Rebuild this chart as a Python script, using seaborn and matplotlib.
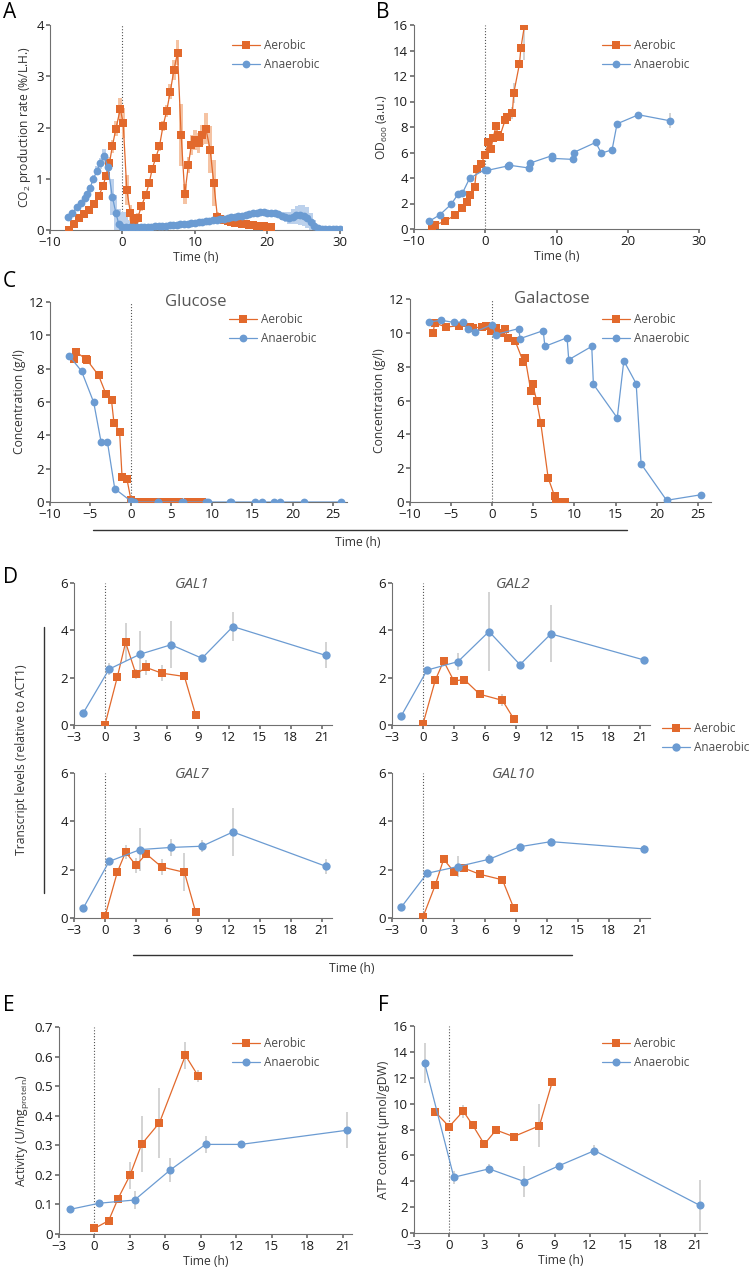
import matplotlib
matplotlib.use('Agg')
import matplotlib.pyplot as plt
import seaborn as sns
import numpy as np
from matplotlib.lines import Line2D

# ---- A: CO2 production rate ----
aer_co2_t = [-7.4, -6.7, -6.0, -5.3, -4.6, -3.9, -3.3, -2.7, -2.3, -1.8,
             -1.4, -0.9, -0.3, 0.1, 0.6, 1.1, 1.6, 2.1, 2.6, 3.2,
             3.7, 4.1, 4.6, 5.1, 5.6, 6.1, 6.6, 7.1, 7.6, 8.1,
             8.6, 9.1, 9.5, 10.0, 10.5, 11.0, 11.5, 12.1, 12.6, 13.1,
             13.5, 14.0, 14.5, 15.0, 15.5, 16.0, 16.5, 17.0, 17.5, 18.0,
             18.5, 19.0, 19.5, 20.0, 20.5]
aer_co2 = [0.0, 0.12, 0.23, 0.31, 0.39, 0.51, 0.66, 0.85, 1.05, 1.30,
           1.63, 1.98, 2.36, 2.09, 0.78, 0.33, 0.18, 0.23, 0.46, 0.68,
           0.92, 1.19, 1.41, 1.63, 2.03, 2.32, 2.70, 3.12, 3.46, 1.85,
           0.70, 1.27, 1.66, 1.76, 1.70, 1.85, 1.98, 1.57, 0.92, 0.26,
           0.22, 0.19, 0.17, 0.15, 0.14, 0.13, 0.12, 0.11, 0.10, 0.09,
           0.08, 0.07, 0.07, 0.06, 0.06]
aer_co2_err = [0.02, 0.03, 0.03, 0.03, 0.04, 0.05, 0.05, 0.06, 0.08, 0.10,
               0.12, 0.15, 0.22, 0.30, 0.30, 0.15, 0.10, 0.10, 0.08, 0.08,
               0.08, 0.08, 0.08, 0.08, 0.10, 0.12, 0.15, 0.20, 0.25, 0.60,
               0.20, 0.15, 0.20, 0.20, 0.20, 0.20, 0.30, 0.45, 0.45, 0.10,
               0.05, 0.05, 0.05, 0.05, 0.05, 0.05, 0.05, 0.05, 0.05, 0.05,
               0.05, 0.05, 0.05, 0.05, 0.05]

ana_co2_t = [-7.5, -6.9, -6.3, -5.7, -5.2, -4.9, -4.5, -4.0, -3.5, -3.1,
             -2.5, -2.0, -1.4, -0.9, -0.5,
             0.0, 0.5, 1.0, 1.5, 2.0, 2.5, 3.0, 3.5, 4.0, 4.5,
             5.0, 5.5, 6.0, 6.5, 7.0, 7.5, 8.0, 8.5, 9.0, 9.5,
             10.0, 10.5, 11.0, 11.5, 12.0, 12.5, 13.0, 13.5, 14.0, 14.5,
             15.0, 15.5, 16.0, 16.5, 17.0, 17.5, 18.0, 18.5, 19.0, 19.5,
             20.0, 20.5, 21.0, 21.5, 22.0, 22.5, 23.0, 23.5, 24.0, 24.5,
             25.0, 25.5, 26.0, 26.5, 27.0, 27.5, 28.0, 28.5, 29.0, 29.5, 30.0]
ana_co2 = [0.26, 0.34, 0.44, 0.53, 0.62, 0.70, 0.81, 1.00, 1.16, 1.30,
           1.44, 1.22, 0.65, 0.33, 0.11,
           0.05, 0.05, 0.05, 0.05, 0.05, 0.05, 0.06, 0.06, 0.06, 0.07,
           0.07, 0.08, 0.08, 0.09, 0.09, 0.10, 0.11, 0.12, 0.12, 0.13,
           0.14, 0.15, 0.16, 0.17, 0.18, 0.19, 0.20, 0.21, 0.22, 0.23,
           0.25, 0.26, 0.27, 0.28, 0.30, 0.31, 0.33, 0.34, 0.35, 0.35,
           0.34, 0.33, 0.33, 0.31, 0.27, 0.25, 0.24, 0.26, 0.29, 0.29,
           0.28, 0.24, 0.16, 0.07, 0.03, 0.02, 0.02, 0.02, 0.02, 0.02, 0.02]
ana_co2_err = [0.03, 0.03, 0.04, 0.04, 0.05, 0.05, 0.06, 0.07, 0.08, 0.10,
               0.15, 0.20, 0.35, 0.35, 0.30,
               0.30, 0.30, 0.15, 0.03, 0.02, 0.02, 0.02, 0.02, 0.02, 0.02,
               0.02, 0.02, 0.02, 0.02, 0.02, 0.02, 0.02, 0.02, 0.02, 0.02,
               0.02, 0.02, 0.02, 0.02, 0.02, 0.02, 0.02, 0.02, 0.02, 0.02,
               0.02, 0.02, 0.02, 0.02, 0.02, 0.02, 0.02, 0.02, 0.02, 0.03,
               0.03, 0.04, 0.05, 0.05, 0.08, 0.10, 0.12, 0.15, 0.18, 0.20,
               0.20, 0.20, 0.18, 0.12, 0.05, 0.02, 0.02, 0.02, 0.02, 0.02, 0.02]

# ---- B: OD600 ----
aer_od_t = [-7.5, -7.1, -5.7, -4.2, -3.2, -2.6, -2.2, -1.5, -1.2, -0.6, 0.0, 0.4,
            0.8, 1.1, 1.5, 1.8, 2.0, 2.8, 3.1, 3.8, 4.0, 4.8, 5.0, 5.5]
aer_od = [0.13, 0.31, 0.60, 1.10, 1.64, 2.14, 2.69, 3.29, 4.73, 5.12, 5.82, 6.79,
          6.27, 7.13, 8.04, 7.39, 7.20, 8.56, 8.80, 9.09, 10.65, 12.95, 14.18, 15.95]
aer_od_err = [0, 0, 0, 0, 0, 0, 0, 0, 0, 0, 0, 0,
              0.3, 0, 0.3, 0, 0, 0.3, 0, 0.5, 0.8, 0, 0.3, 2.7]
ana_od_t = [-7.9, -6.4, -4.8, -3.8, -3.2, -2.2, -0.1, 0.3, 3.2, 3.4, 6.2, 6.3,
            9.3, 9.4, 12.3, 12.4, 15.5, 16.3, 17.8, 18.5, 21.5, 25.9]
ana_od = [0.60, 1.10, 1.93, 2.74, 2.82, 3.97, 4.65, 4.60, 4.95, 5.00, 4.78, 5.17,
          5.74, 5.54, 5.46, 6.00, 6.79, 5.95, 6.21, 8.25, 8.96, 8.49]
ana_od_err = [0, 0, 0, 0, 0, 0, 0, 0, 0, 0, 0, 0,
              0, 0, 0, 0, 0, 0, 0, 0, 0, 0.6]

# ---- C: glucose / galactose ----
aer_glc_t = [-7.0, -6.8, -5.6, -5.4, -4.0, -3.1, -2.4, -2.1, -1.4, -1.1, -0.5, 0.0,
             0.5, 1.0, 1.3, 1.8, 2.1, 2.9, 3.1, 3.8, 4.1, 4.8, 5.2, 5.6, 6.0,
             7.0, 7.5, 8.0, 8.5, 8.8]
aer_glc = [8.6, 9.0, 8.6, 8.5, 7.6, 6.5, 6.1, 4.76, 4.22, 1.53, 1.39, 0.14,
           0, 0, 0, 0, 0, 0, 0, 0, 0, 0, 0, 0, 0,
           0, 0, 0, 0, 0]
ana_glc_t = [-7.6, -6.1, -4.6, -3.7, -2.9, -2.0, 0.0, 0.4, 3.3, 3.4, 6.3, 6.4,
             9.3, 9.5, 12.2, 12.4, 15.3, 16.2, 17.7, 18.4, 21.4, 25.9]
ana_glc = [8.76, 7.85, 5.98, 3.63, 3.59, 0.80, 0.05, 0, 0, 0, 0, 0,
           0, 0, 0, 0, 0, 0, 0, 0, 0, 0]

aer_gal_t = [-7.2, -7.0, -5.6, -4.1, -2.7, -2.3, -1.3, -0.7, -0.1, 0.5, 1.1, 1.5,
             1.9, 2.8, 3.8, 4.0, 4.7, 4.9, 5.4, 5.9, 6.8, 7.6, 7.8, 8.4, 8.9]
aer_gal = [9.98, 10.58, 10.34, 10.42, 10.34, 10.30, 10.33, 10.42, 10.09, 10.29, 9.99, 10.23,
           9.69, 9.50, 8.26, 8.51, 6.54, 7.00, 5.99, 4.67, 1.42, 0.33, 0.0, 0.0, 0.0]
ana_gal_t = [-7.7, -6.2, -4.7, -3.6, -3.0, -2.1, 0.0, 0.4, 3.2, 3.4, 6.2, 6.4,
             9.1, 9.3, 12.1, 12.3, 15.2, 16.0, 17.5, 18.1, 21.2, 25.4]
ana_gal = [10.64, 10.74, 10.62, 10.64, 10.23, 10.05, 10.49, 9.90, 10.25, 9.66, 10.13, 9.20,
           9.71, 8.41, 9.20, 6.96, 4.97, 8.35, 7.00, 2.25, 0.10, 0.43]

# ---- D: transcript levels ----
aer_t = [0, 1.2, 2, 3, 4, 5.5, 7.7, 8.8]
ana_t = [-2.1, 0.4, 3.4, 6.4, 9.4, 12.4, 21.4]
genes = ['GAL1', 'GAL2', 'GAL7', 'GAL10']
gal_aer = {
    'GAL1': [0.01, 2.03, 3.49, 2.16, 2.43, 2.19, 2.05, 0.41],
    'GAL2': [0.04, 1.90, 2.70, 1.86, 1.92, 1.30, 1.04, 0.26],
    'GAL7': [0.07, 1.90, 2.73, 2.18, 2.65, 2.11, 1.89, 0.23],
    'GAL10': [0.04, 1.37, 2.43, 1.92, 2.06, 1.81, 1.58, 0.41],
}
gal_aer_err = {
    'GAL1': [0, 0, 0.8, 0.2, 0.3, 0.35, 0, 0],
    'GAL2': [0, 0, 0.1, 0, 0, 0, 0.25, 0],
    'GAL7': [0, 0, 0.3, 0.3, 0.15, 0.35, 0.78, 0],
    'GAL10': [0, 0, 0, 0, 0, 0, 0, 0],
}
gal_ana = {
    'GAL1': [0.51, 2.36, 2.99, 3.39, 2.82, 4.16, 2.94],
    'GAL2': [0.39, 2.32, 2.68, 3.95, 2.55, 3.85, 2.75],
    'GAL7': [0.41, 2.34, 2.83, 2.92, 2.97, 3.56, 2.14],
    'GAL10': [0.45, 1.85, 2.13, 2.43, 2.95, 3.16, 2.86],
}
gal_ana_err = {
    'GAL1': [0, 0.25, 1.0, 1.0, 0, 0.6, 0.55],
    'GAL2': [0, 0, 0.35, 1.65, 0, 1.2, 0],
    'GAL7': [0, 0, 0.9, 0.35, 0.25, 1.0, 0.3],
    'GAL10': [0, 0, 0.45, 0.2, 0, 0.15, 0.15],
}

# ---- E: activity ----
act_aer = [0.019, 0.045, 0.12, 0.198, 0.304, 0.376, 0.604, 0.533]
act_aer_err = [0, 0, 0, 0.045, 0.095, 0.118, 0.045, 0.02]
act_ana = [0.083, 0.104, 0.115, 0.216, 0.303, 0.303, 0.351]
act_ana_err = [0.01, 0, 0.03, 0.04, 0.03, 0, 0.06]

# ---- F: ATP ----
atp_aer_t = [-1.2, 0, 1.2, 2, 3, 4, 5.5, 7.7, 8.8]
atp_aer = [9.37, 8.22, 9.42, 8.35, 6.86, 7.96, 7.45, 8.29, 11.69]
atp_aer_err = [0, 0, 0.5, 0, 0, 0, 0, 1.65, 0]
atp_ana = [13.15, 4.31, 4.96, 3.98, 5.21, 6.37, 2.13]
atp_ana_err = [1.55, 0.5, 0.4, 1.2, 0, 0.4, 2.0]

ORANGE = '#E2692C'
BLUE = '#6B9BD2'
ORANGE_L = '#F5C3A3'
BLUE_L = '#BCD1EC'
ERRC = '#C8C8C8'
W, H = 750, 1275

sns.set_theme(style='ticks')
plt.rcParams['font.family'] = ['Open Sans', 'DejaVu Sans']
plt.rcParams['mathtext.default'] = 'regular'
plt.rcParams['axes.edgecolor'] = '#707070'
plt.rcParams['axes.linewidth'] = 0.8
plt.rcParams['xtick.color'] = '#707070'
plt.rcParams['ytick.color'] = '#707070'
plt.rcParams['xtick.labelcolor'] = '#1a1a1a'
plt.rcParams['ytick.labelcolor'] = '#1a1a1a'
plt.rcParams['xtick.labelsize'] = 9.5
plt.rcParams['ytick.labelsize'] = 9.5
plt.rcParams['xtick.major.size'] = 3
plt.rcParams['ytick.major.size'] = 3
plt.rcParams['xtick.major.pad'] = 1.5
plt.rcParams['ytick.major.pad'] = 1.5
plt.rcParams['axes.labelsize'] = 8.7
plt.rcParams['axes.labelcolor'] = '#333333'

fig = plt.figure(figsize=(7.5, 12.75), dpi=100)


def make_ax(left, right, top, bottom):
    # pixel box -> figure fraction
    return fig.add_axes([left / W, 1 - bottom / H, (right - left) / W, (bottom - top) / H])


def draw(ax, t, v, err, color, marker, ms, label):
    t = np.array(t, dtype=float)
    v = np.array(v, dtype=float)
    if err is not None:
        e = np.array(err, dtype=float)
        ax.vlines(t[e > 0], (v - e)[e > 0], (v + e)[e > 0], color=ERRC, lw=1.1, zorder=1)
    sns.lineplot(x=t, y=v, ax=ax, color=color, marker=marker, markersize=ms,
                 markeredgecolor=color, markeredgewidth=0, lw=0.9, label=label,
                 estimator=None, sort=False, zorder=3)


def style(ax, xlim, xticks, ylim, yticks, xlabel='', ylabel=''):
    ax.set_xlim(*xlim)
    ax.set_ylim(*ylim)
    ax.set_xticks(xticks)
    ax.set_yticks(yticks)
    ax.set_yticklabels([f'{y:g}' for y in yticks])
    ax.set_xlabel(xlabel, labelpad=1)
    ax.set_ylabel(ylabel, labelpad=2)
    ax.axvline(0, ls=':', color='#555555', lw=0.8, zorder=0)
    sns.despine(ax=ax)


def legend(ax, x, y):
    ax.legend(loc='upper left', bbox_to_anchor=(x / W, 1 - y / H), bbox_transform=fig.transFigure,
              frameon=False, fontsize=8.5, handlelength=2.4, handletextpad=0.3, labelspacing=0.5,
              borderpad=0, borderaxespad=0, labelcolor='#4d4d4d')


# A
ax = make_ax(50, 342, 25, 230)
ax.fill_between(ana_co2_t, np.array(ana_co2) - ana_co2_err, np.array(ana_co2) + ana_co2_err,
                step='mid', color=BLUE_L, lw=0, zorder=1)
ax.fill_between(aer_co2_t, np.array(aer_co2) - aer_co2_err, np.array(aer_co2) + aer_co2_err,
                step='mid', color=ORANGE_L, lw=0, zorder=1)
draw(ax, aer_co2_t, aer_co2, None, ORANGE, 's', 5.6, 'Aerobic')
draw(ax, ana_co2_t, ana_co2, None, BLUE, 'o', 5.6, 'Anaerobic')
style(ax, (-10, 30.3), [-10, 0, 10, 20, 30], (0, 4), [0, 1, 2, 3, 4],
      'Time (h)', 'CO$_2$ production rate (%/L.H.)')
legend(ax, 232, 39)

# B
ax = make_ax(414, 699, 25, 229)
draw(ax, aer_od_t, aer_od, aer_od_err, ORANGE, 's', 5.6, 'Aerobic')
draw(ax, ana_od_t, ana_od, ana_od_err, BLUE, 'o', 5.6, 'Anaerobic')
style(ax, (-10, 30), [-10, 0, 10, 20, 30], (0, 16), list(range(0, 17, 2)),
      'Time (h)', 'OD$_{600}$ (a.u.)')
legend(ax, 602, 39)

# C glucose
ax = make_ax(50, 347, 302, 502)
draw(ax, aer_glc_t, aer_glc, None, ORANGE, 's', 5.6, 'Aerobic')
draw(ax, ana_glc_t, ana_glc, None, BLUE, 'o', 5.6, 'Anaerobic')
style(ax, (-10, 26.7), [-10, -5, 0, 5, 10, 15, 20, 25], (0, 12), list(range(0, 13, 2)),
      '', 'Concentration (g/l)')
ax.text(0.49, 1.0, 'Glucose', transform=ax.transAxes, ha='center', va='center',
        fontsize=12, color='#555555')
legend(ax, 229, 313)

# C galactose
ax = make_ax(410, 711, 299, 502)
draw(ax, aer_gal_t, aer_gal, None, ORANGE, 's', 5.6, 'Aerobic')
draw(ax, ana_gal_t, ana_gal, None, BLUE, 'o', 5.6, 'Anaerobic')
style(ax, (-10, 26.6), [-10, -5, 0, 5, 10, 15, 20, 25], (0, 12), list(range(0, 13, 2)),
      '', 'Concentration (g/l)')
ax.text(0.47, 1.0, 'Galactose', transform=ax.transAxes, ha='center', va='center',
        fontsize=12, color='#555555')
legend(ax, 602, 313)

fig.add_artist(Line2D([93 / W, 627 / W], [1 - 530 / H, 1 - 530 / H], transform=fig.transFigure,
                      color='#333333', lw=1))
fig.text(358 / W, 1 - 543 / H, 'Time (h)', ha='center', va='center', fontsize=8.7, color='#333333')

# D
boxes = {'GAL1': (74, 332, 583, 725), 'GAL2': (392, 650, 583, 725),
         'GAL7': (74, 332, 773, 918), 'GAL10': (392, 650, 773, 918)}
title_x = {'GAL1': 0.46, 'GAL2': 0.47, 'GAL7': 0.46, 'GAL10': 0.47}
for g in genes:
    ax = make_ax(*boxes[g])
    draw(ax, aer_t, gal_aer[g], gal_aer_err[g], ORANGE, 's', 6, 'Aerobic')
    draw(ax, ana_t, gal_ana[g], gal_ana_err[g], BLUE, 'o', 6, 'Anaerobic')
    style(ax, (-3, 22), list(range(-3, 22, 3)), (0, 6), [0, 2, 4, 6])
    ax.text(title_x[g], 0.99, g, transform=ax.transAxes, ha='center', va='center',
            fontsize=11, style='italic', color='#555555')
    if g == 'GAL2':
        legend(ax, 662, 722)
    else:
        ax.get_legend().remove()

fig.add_artist(Line2D([44 / W, 44 / W], [1 - 627 / H, 1 - 893 / H], transform=fig.transFigure,
                      color='#333333', lw=1))
fig.text(22 / W, 1 - 760 / H, 'Transcript levels (relative to ACT1)', rotation=90,
         ha='center', va='center', fontsize=8.7, color='#333333')
fig.add_artist(Line2D([133 / W, 572 / W], [1 - 955 / H, 1 - 955 / H], transform=fig.transFigure,
                      color='#333333', lw=1))
fig.text(352 / W, 1 - 968 / H, 'Time (h)', ha='center', va='center', fontsize=8.7, color='#333333')

# E
ax = make_ax(59, 352, 1027, 1234)
draw(ax, aer_t, act_aer, act_aer_err, ORANGE, 's', 5.8, 'Aerobic')
draw(ax, ana_t, act_ana, act_ana_err, BLUE, 'o', 5.8, 'Anaerobic')
style(ax, (-3, 21.8), list(range(-3, 22, 3)), (0, 0.7), [0, 0.1, 0.2, 0.3, 0.4, 0.5, 0.6, 0.7],
      'Time (h)', 'Activity (U/mg$_{protein}$)')
legend(ax, 232, 1037)

# F
ax = make_ax(414, 707, 1026, 1233)
draw(ax, atp_aer_t, atp_aer, atp_aer_err, ORANGE, 's', 5.8, 'Aerobic')
draw(ax, ana_t, atp_ana, atp_ana_err, BLUE, 'o', 5.8, 'Anaerobic')
style(ax, (-3, 22), list(range(-3, 22, 3)), (0, 16), list(range(0, 17, 2)),
      'Time (h)', 'ATP content (µmol/gDW)')
legend(ax, 602, 1037)

# panel letters
for letter, x, y in [('A', 3, 2), ('B', 376, 2), ('C', 3, 271), ('D', 3, 567),
                     ('E', 3, 995), ('F', 378, 995)]:
    fig.text(x / W, 1 - y / H, letter, ha='left', va='top', fontsize=15, color='black')

fig.savefig('out.png', dpi=100)
